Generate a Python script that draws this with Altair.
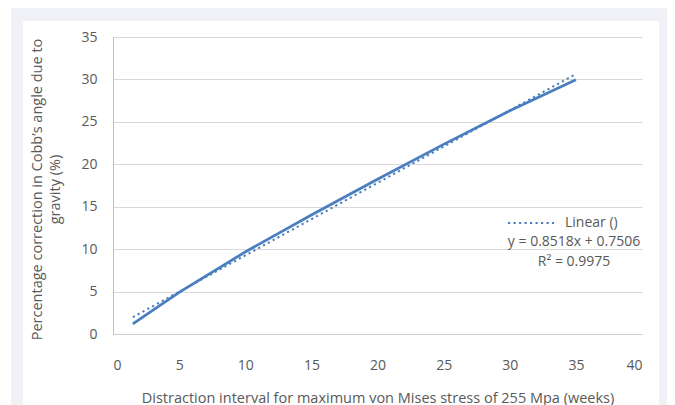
import altair as alt
import pandas as pd

# ---- data ----
x_weeks = [1.5, 5, 10, 15, 20, 25, 30, 35]
y_corr = [1.18, 4.9, 9.67, 14.03, 18.24, 22.35, 26.3, 29.96]
x_ticks = [0, 5, 10, 15, 20, 25, 30, 35, 40]
y_ticks = [0, 5, 10, 15, 20, 25, 30, 35]
legend_label = "Linear ()"
equation_text = "y = 0.8518x + 0.7506"
r2_text = "R\u00b2 = 0.9975"
x_title = "Distraction interval for maximum von Mises stress of 255 Mpa (weeks)"
y_title = ["Percentage correction in Cobb\u2019s angle due to", "gravity (%)"]

df = pd.DataFrame({"x": x_weeks, "y": y_corr})

FONT = "Open Sans"
GREY = "#595959"
BLUE = "#4A7EBF"
FRAME = "#F0F1F7"
DASH = [2.2, 3.3]

xscale = alt.Scale(domain=[0, 40], nice=False, zero=False)
yscale = alt.Scale(domain=[0, 35], nice=False, zero=False)

x_enc = alt.X("x:Q", scale=xscale, title=x_title,
              axis=alt.Axis(values=x_ticks, grid=False, ticks=False,
                            domainColor="#D0D0D0", labelPadding=24,
                            titlePadding=19))
y_enc = alt.Y("y:Q", scale=yscale, title=y_title,
              axis=alt.Axis(values=y_ticks, grid=True, gridColor="#D9D9D9",
                            ticks=False, domainColor="#BFBFBF",
                            labelPadding=16, titleLineHeight=18,
                            titleX=-83, titleY=152, titleBaseline="top",
                            titleAlign="center", titleAngle=270))

one = alt.Data(values=[{}])

# light frame strips around the white panel (decoration)
frame_top = alt.Chart(one).mark_rect(color=FRAME).encode(
    x=alt.value(-102), x2=alt.value(559), y=alt.value(-31), y2=alt.value(-16))
frame_left = alt.Chart(one).mark_rect(color=FRAME).encode(
    x=alt.value(-102), x2=alt.value(-90), y=alt.value(-16), y2=alt.value(400))
frame_right = alt.Chart(one).mark_rect(color=FRAME).encode(
    x=alt.value(546), x2=alt.value(559), y=alt.value(-16), y2=alt.value(400))

data_line = alt.Chart(df).mark_line(color=BLUE, strokeWidth=2.75).encode(
    x=x_enc, y=y_enc)

trend = alt.Chart(df).transform_regression("x", "y").transform_calculate(
    series=f"'{legend_label}'"
).mark_line(color=BLUE, strokeWidth=2, strokeCap="butt").encode(
    x="x:Q", y="y:Q",
    strokeDash=alt.StrokeDash(
        "series:N",
        scale=alt.Scale(domain=[legend_label], range=[DASH]),
        legend=alt.Legend(title=None, orient="none", legendX=394, legendY=162,
                          symbolType="stroke", symbolSize=2116,
                          symbolStrokeColor=BLUE, symbolStrokeWidth=2,
                          labelFont=FONT, labelFontSize=14, labelColor=GREY,
                          labelOffset=10, padding=0)))

eq = alt.Chart(one).mark_text(font=FONT, fontSize=14, color=GREY,
                              align="center", baseline="middle").encode(
    x=alt.value(461), y=alt.value(205), text=alt.value(equation_text))
r2 = alt.Chart(one).mark_text(font=FONT, fontSize=14, color=GREY,
                              align="center", baseline="middle").encode(
    x=alt.value(461), y=alt.value(225), text=alt.value(r2_text))

chart = alt.layer(frame_top, frame_left, frame_right, data_line, trend, eq, r2).properties(
    width=529, height=297,
    autosize=alt.AutoSizeParams(type="none"),
    padding={"left": 105, "top": 29, "right": 25, "bottom": 71},
    background="white",
).configure_view(stroke=None).configure_axis(
    labelFont=FONT, labelFontSize=14, labelColor=GREY,
    titleFont=FONT, titleFontSize=14.5, titleColor=GREY, titleFontWeight="normal",
)

chart.save("out.html", embed_options={"renderer": "svg", "actions": False})
